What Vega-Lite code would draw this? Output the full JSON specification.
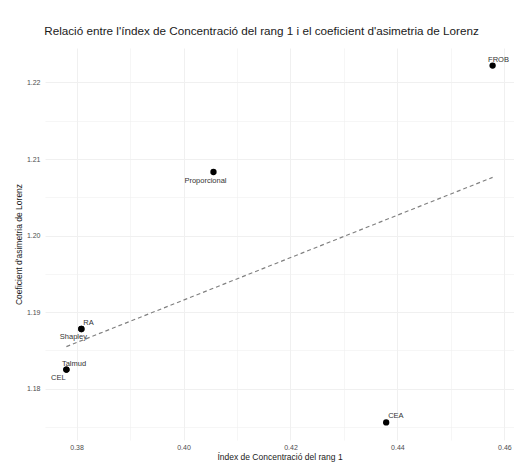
{
  "$schema": "https://vega.github.io/schema/vega-lite/v6.json",
  "width": 469,
  "height": 392,
  "autosize": {"type": "none"},
  "padding": {"left": 45, "top": 48, "right": 0, "bottom": 23},
  "background": "white",
  "title": {
    "text": "Relació entre l'índex de Concentració del rang 1 i el coeficient d'asimetria de Lorenz",
    "font": "Liberation Sans",
    "fontSize": 11.7,
    "fontWeight": "normal",
    "color": "#1a1a1a",
    "anchor": "middle",
    "dx": -18,
    "offset": 10
  },
  "config": {
    "view": {"stroke": null},
    "axis": {
      "domain": false,
      "ticks": false,
      "labelFont": "Liberation Sans",
      "labelFontSize": 7,
      "labelColor": "#4d4d4d",
      "titleFont": "Liberation Sans",
      "titleFontSize": 8.5,
      "titleFontWeight": "normal",
      "titleColor": "#1a1a1a",
      "gridColor": "#f0f0f0"
    }
  },
  "datasets": {
    "points": [
      {"metode": "FROB", "ic": 0.4578, "al": 1.2222},
      {"metode": "Proporcional", "ic": 0.4056, "al": 1.2083},
      {"metode": "RA", "ic": 0.3809, "al": 1.1878},
      {"metode": "Shapley", "ic": 0.3809, "al": 1.1878},
      {"metode": "Talmud", "ic": 0.3781, "al": 1.1825},
      {"metode": "CEL", "ic": 0.3781, "al": 1.1825},
      {"metode": "CEA", "ic": 0.4379, "al": 1.1756}
    ],
    "fit": [
      {"ic": 0.3781, "al": 1.1855},
      {"ic": 0.4578, "al": 1.2076}
    ]
  },
  "layer": [
    {
      "data": {"name": "fit"},
      "mark": {"type": "line", "color": "#808080", "strokeDash": [4, 3], "strokeWidth": 1.2},
      "encoding": {
        "x": {
          "field": "ic", "type": "quantitative",
          "scale": {"domain": [0.3741, 0.4618], "nice": false, "zero": false},
          "axis": {
            "title": "Índex de Concentració del rang 1",
            "values": [0.38, 0.39, 0.40, 0.41, 0.42, 0.43, 0.44, 0.45, 0.46],
            "labelExpr": "round(datum.value*100) % 2 == 0 ? format(datum.value, '.2f') : ''",
            "gridWidth": {"condition": {"test": "round(datum.value*100) % 2 == 0", "value": 1}, "value": 0.6},
            "labelPadding": 3,
            "titlePadding": 2
          }
        },
        "y": {
          "field": "al", "type": "quantitative",
          "scale": {"domain": [1.1733, 1.2245], "nice": false, "zero": false},
          "axis": {
            "title": "Coeficient d'asimetria de Lorenz",
            "values": [1.175, 1.18, 1.185, 1.19, 1.195, 1.2, 1.205, 1.21, 1.215, 1.22],
            "labelExpr": "round(datum.value*1000) % 10 == 0 ? format(datum.value, '.2f') : ''",
            "gridWidth": {"condition": {"test": "round(datum.value*1000) % 10 == 0", "value": 1}, "value": 0.6},
            "labelPadding": 5,
            "titlePadding": 3
          }
        }
      }
    },
    {
      "data": {"name": "points"},
      "mark": {"type": "circle", "color": "black", "opacity": 1, "size": 40},
      "encoding": {
        "x": {"field": "ic", "type": "quantitative"},
        "y": {"field": "al", "type": "quantitative"}
      }
    },
    {
      "data": {"name": "points"},
      "transform": [{"filter": {"field": "metode", "oneOf": ["FROB", "Talmud"]}}],
      "mark": {"type": "text", "align": "left", "baseline": "middle", "dx": -4.5, "dy": -5.5, "font": "Liberation Sans", "fontSize": 7.5, "color": "#333333"},
      "encoding": {
        "x": {"field": "ic", "type": "quantitative"},
        "y": {"field": "al", "type": "quantitative"},
        "text": {"field": "metode"}
      }
    },
    {
      "data": {"name": "points"},
      "transform": [{"filter": {"field": "metode", "oneOf": ["RA", "CEA"]}}],
      "mark": {"type": "text", "align": "left", "baseline": "middle", "dx": 2, "dy": -6, "font": "Liberation Sans", "fontSize": 7.5, "color": "#333333"},
      "encoding": {
        "x": {"field": "ic", "type": "quantitative"},
        "y": {"field": "al", "type": "quantitative"},
        "text": {"field": "metode"}
      }
    },
    {
      "data": {"name": "points"},
      "transform": [{"filter": {"field": "metode", "oneOf": ["Shapley", "CEL", "Proporcional"]}}],
      "mark": {"type": "text", "align": "center", "baseline": "middle", "dx": -8, "dy": 8.5, "font": "Liberation Sans", "fontSize": 7.5, "color": "#333333"},
      "encoding": {
        "x": {"field": "ic", "type": "quantitative"},
        "y": {"field": "al", "type": "quantitative"},
        "text": {"field": "metode"}
      }
    }
  ]
}
